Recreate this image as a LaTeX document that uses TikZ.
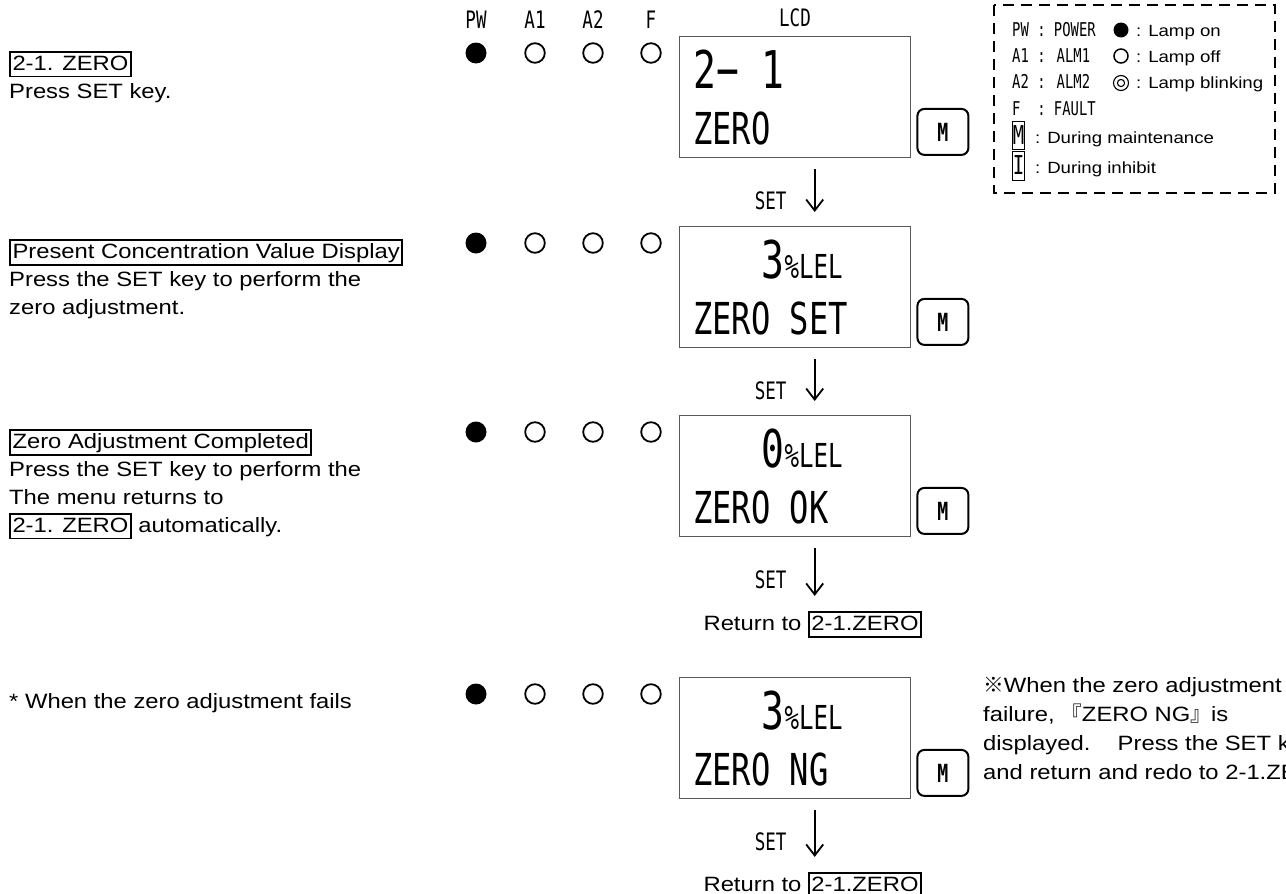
\documentclass[tikz,border=0pt]{standalone}
\usepackage{fontspec}
\setmainfont{Liberation Sans}[FakeStretch=1.15]
\newfontfamily\lcdfont{DejaVu Sans Mono}[FakeStretch=0.73]
\newfontfamily\cjk{Noto Sans CJK JP}
\usetikzlibrary{arrows.meta}

\newcommand\lcdbig{\lcdfont\fontsize{52}{52}\selectfont}
\newcommand\lcdmid{\lcdfont\fontsize{44}{44}\selectfont}
\newcommand\lcdsmall{\lcdfont\fontsize{33}{33}\selectfont}
\newcommand\lcdval[1]{{\lcdbig\phantom{000}#1}{\lcdsmall\%LEL}}
\newcommand\keybox[1]{\fbox{\rule[-4pt]{0pt}{20pt}#1}}
\setlength\fboxsep{1.5pt}
\setlength\fboxrule{1.8pt}

\tikzset{
  lcdbox/.style={draw=black!65, line width=1.4pt, minimum width=231pt, minimum height=121pt, inner sep=0pt},
  lcdtext/.style={inner sep=0pt, anchor=base west},
  mkey/.style={draw, line width=2pt, rounded corners=7pt, minimum width=51pt, minimum height=46pt,
    inner sep=0pt, font=\lcdfont\bfseries\fontsize{25}{25}\selectfont},
  setarrow/.style={line width=1.8pt, -{Straight Barb[length=11pt,width=17pt]}},
  gothic/.style={inner sep=0pt, font=\lcdfont\fontsize{24}{24}\selectfont},
  note/.style={inner sep=0pt, align=left, anchor=base west, font=\fontsize{20.7}{28}\selectfont},
  legendframe/.style={line width=2.5pt, dash pattern=on 11pt off 7pt},
  legendcode/.style={inner sep=0pt, anchor=base west, font=\lcdfont\fontsize{19}{19}\selectfont},
  legendtext/.style={inner sep=0pt, anchor=base west, font=\fontsize{16.2}{20}\selectfont}
}

\begin{document}
\begin{tikzpicture}[x=1pt, y=-1pt]
  \useasboundingbox (0,0) rectangle (1286,894);

  % lamp and display headings
  \foreach \lx/\lt in {476/PW, 535/A1, 593/A2, 651/F}
    \node[gothic, anchor=base] (hd\lt) at (\lx,28) {\lt};
  \node[gothic, anchor=base] (hdLCD) at (795,27) {LCD};

  % the four screens
  \foreach \ty/\first/\second [count=\i] in {36/{\lcdbig 2−\ 1}/ZERO, 226/{\lcdval{3}}/ZERO SET,
      415/{\lcdval{0}}/ZERO OK, 677/{\lcdval{3}}/ZERO NG}{
    \node[lcdbox, anchor=north west] (lcd\i) at (679,\ty) {};
    \node[lcdtext] (upper\i) at ([xshift=14pt,yshift=-52pt]lcd\i.north west) {\first};
    \node[lcdtext] (lower\i) at ([xshift=14pt,yshift=-108pt]lcd\i.north west) {\lcdmid \second};
    \node[mkey, anchor=south west] (mkey\i) at ([xshift=5pt,yshift=2.5pt]lcd\i.south east) {M};
    \fill (476,\ty+17) circle (10.5pt);
    \foreach \lx in {535,593,651}{\draw[line width=1.8pt] (\lx,\ty+17) circle (9.8pt);}
    \node[gothic, anchor=base] (set\i) at ([xshift=-24.5pt,yshift=-51pt]lcd\i.south) {SET};
  }

  \node[note, anchor=base] (ret1) at ([xshift=17.5pt,yshift=-93pt]lcd3.south) {Return to \keybox{2-1.ZERO}};
  \node[note, anchor=base] (ret2) at ([xshift=17.5pt,yshift=-92pt]lcd4.south) {Return to \keybox{2-1.ZERO}};

  \draw[setarrow] ([xshift=19.5pt,yshift=-11pt]lcd1.south) -- ([xshift=19.5pt,yshift=14pt]lcd2.north);
  \draw[setarrow] ([xshift=19.5pt,yshift=-11pt]lcd2.south) -- ([xshift=19.5pt,yshift=14pt]lcd3.north);
  \draw[setarrow] ([xshift=19.5pt,yshift=-11pt]lcd3.south) -- ([xshift=2pt,yshift=15pt]ret1.north);
  \draw[setarrow] ([xshift=19.5pt,yshift=-11pt]lcd4.south) -- ([xshift=2pt,yshift=15pt]ret2.north);

  % explanations on the left (base = last line)
  \node[note] (step1) at (9,98) {\keybox{2-1. ZERO}\\Press SET key.};
  \node[note] (step2) at (9,314) {\keybox{Present Concentration Value Display}\\Press the SET key to perform the\\zero adjustment.};
  \node[note] (step3) at (9,532) {\keybox{Zero Adjustment Completed}\\Press the SET key to perform the\\The menu returns to\\\keybox{2-1. ZERO} automatically.};
  \node[note] (step4) at (9,708) {* When the zero adjustment fails};

  % note beside the failed screen
  \node[note, font=\fontsize{20.7}{29}\selectfont] (ngnote) at (983,779) {{\cjk ※}When the zero adjustment\\failure,\ {\cjk 『}ZERO NG{\cjk 』}is\\displayed.{\cjk 　}\ Press the SET k\\and return and redo to 2-1.ZE};

  % legend
  \draw[legendframe] (994,5) rectangle (1275,193);
  \foreach \ly/\code [count=\j] in {36/PW : POWER, 62/A1 : ALM1, 88/A2 : ALM2, 115/F~~: FAULT}
    \node[legendcode] (code\j) at (1012,\ly) {\code};
  \fill (1121,30) circle (7.5pt);
  \draw[line width=1.5pt] (1121,56) circle (7pt);
  \draw[line width=1.1pt] (1121,83) circle (7.5pt) (1121,83) circle (3.6pt);
  \foreach \ly/\txt [count=\j] in {36/Lamp on, 62/Lamp off, 88/Lamp blinking}
    \node[legendtext] (lamp\j) at (1136,\ly) {: \txt};
  \draw[line width=0.8pt] (1012.5,121.5) rectangle (1024.5,149) (1012.5,151) rectangle (1024.5,180);
  \node[inner sep=0pt, font=\lcdfont\fontsize{26}{26}\selectfont] (boxM) at (1018.5,135.5) {M};
  \node[inner sep=0pt, font=\lcdfont\fontsize{26}{26}\selectfont] (boxI) at (1018.5,165.5) {I};
  \node[legendtext] (maint) at (1035,143) {: During maintenance};
  \node[legendtext] (inhib) at (1035,173) {: During inhibit};
\end{tikzpicture}
\end{document}
